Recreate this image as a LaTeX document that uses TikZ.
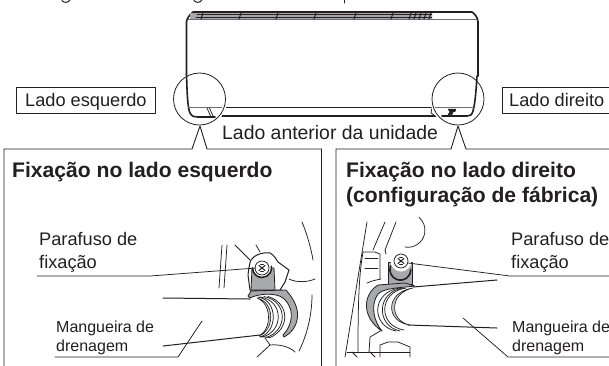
\documentclass[tikz,border=0pt]{standalone}
\usepackage{fontspec}
\setmainfont{Liberation Sans}
\definecolor{ink}{HTML}{231F20}
\definecolor{band}{HTML}{A7A9AC}
\tikzset{
 x=1pt,y=-1pt,
 fine/.style={draw=ink,line width=0.75pt},
 med/.style={draw=ink,line width=1pt},
 heavy/.style={draw=ink,line width=1.6pt},
 greyline/.style={draw=ink!65,line width=0.9pt},
 panel/.style={draw=ink,line width=0.9pt,line cap=butt},
 metal/.style={fill=band,draw=ink,line width=0.8pt},
 lens/.style={circle,draw=ink,line width=0.8pt,minimum size=52pt,inner sep=0pt},
 tagbox/.style={draw=ink,line width=0.8pt},
 lab/.style={anchor=base west,inner sep=0pt,text=ink,font=\fontsize{18.2}{20}\selectfont},
 smalllab/.style={anchor=base west,inner sep=0pt,text=ink,font=\fontsize{16}{18}\selectfont},
 frontlab/.style={anchor=base west,inner sep=0pt,text=ink,font=\fontsize{19.4}{22}\selectfont},
 head/.style={anchor=base west,inner sep=0pt,text=ink,font=\bfseries\fontsize{21.1}{23}\selectfont},
}
\begin{document}
\begin{tikzpicture}[line join=round,line cap=round]
\clip (0,0) rectangle (609,365);
\fill[white] (0,0) rectangle (609,365);
% clipped descenders of the line above
\draw[fine,line width=1pt] (62,0.5) .. controls (64,3) and (68,3) .. (70,0);
\draw[fine,line width=1pt] (194,0.5) .. controls (196,3) and (200,3) .. (202,0);
\draw[fine,line width=1pt] (344,0) -- (344,3);
% unit body
\draw[heavy] (186.5,76) -- (186.5,22) .. controls (186.5,19) and (190,14) .. (193,12) -- (472,12) .. controls (475,14) and (478,18) .. (478,22) -- (478,76);
\fill[band] (190,13) rectangle (432,19);
\draw[greyline] (188,19.5) -- (477,19.5);
\draw[fine] (197,14.5) -- (432,14.5);
\draw[fine] (196,17) -- (432,17);
\foreach \tx in {202,240,277,315,355,392,410,415,420,425,430}
  \draw[med] (\tx+1,13) -- (\tx-1,19);
\draw[med] (224,107.5) -- (432,107.5);
\draw[heavy,line width=1.8pt] (222,116) -- (436,116);
\draw[fine] (432,107.5) -- (431,113) -- (434,115);
% lenses
\fill[white] (199.5,99) circle (28);
\fill[white] (458,99) circle (28);
\node[lens] (lensL) at (199.5,99) {};
\node[lens] (lensR) at (458,99) {};
% inside left lens
\draw[heavy] (186.5,74) .. controls (187,90) and (187.5,108) .. (190,113) .. controls (192,117) and (195,117) .. (198,117) -- (215,117);
\draw[greyline] (188,107.5) -- (222,107.5);
\draw[fine] (207,108) -- (211,117);
\draw[fine] (209.5,108) -- (213,116);
% inside right lens
\draw[heavy] (477,76) .. controls (476,92) and (475,104) .. (473,111) .. controls (472,115) and (470,116) .. (467,116) -- (442,116);
\draw[greyline] (435,107.5) -- (475,107.5);
\draw[fill=ink,draw=ink,line width=0.5pt] (448,109) -- (456,109) -- (455,111.5) -- (453,112) -- (452,114.5) -- (448,114.5) -- (450,112) -- cycle;
% tags
\node[tagbox,minimum width=139pt,minimum height=26pt,inner sep=0pt] (tagL) at (85.5,100) {};
\node[tagbox,minimum width=120pt,minimum height=26pt,inner sep=0pt] (tagR) at (562,100) {};
\node[lab] (tagLt) at (25,106) {Lado esquerdo};
\node[lab] (tagRt) at (509,106) {Lado direito};
\node[frontlab] (front) at (222,139) {Lado anterior da unidade};
% panels
\coordinate (tipL) at (200,126);
\coordinate (tipR) at (458,126);
\draw[panel] (4,366) -- (4,149) -- (192,149) -- (tipL) -- (207,149) -- (321.5,149) -- (321.5,366);
\draw[panel] (336,366) -- (336,149) -- (451,149) -- (tipR) -- (466,149) -- (612,149);
\node[head] (hL) at (12,177) {Fixação no lado esquerdo};
\node[head] (hR1) at (346,177) {Fixação no lado direito};
\node[head] (hR2) at (346,202) {(configuração de fábrica)};
\node[lab] (scL1) at (39,245) {Parafuso de};
\node[lab] (scL2) at (39,268) {fixação};
\node[smalllab] (hoL1) at (56,332) {Mangueira de};
\node[smalllab] (hoL2) at (56,351) {drenagem};
\node[lab] (scR1) at (511,245) {Parafuso de};
\node[lab] (scR2) at (511,268) {fixação};
\node[smalllab] (hoR1) at (512,332) {Mangueira de};
\node[smalllab] (hoR2) at (512,351) {drenagem};
% ---------- left illustration
\draw[fine] (222,245) -- (219,288);
\draw[fine] (227,245) -- (224,288);
\draw[fine] (235,245) -- (250,260);
\draw[fine] (256,245) -- (260,252);
\draw[fine] (302,222) .. controls (307,234) and (311,248) .. (313,260);
\draw[fine] (289,279) .. controls (297,283) and (308,282) .. (315,279);
\draw[fine] (312,295) .. controls (312,315) and (307,335) .. (299,351);
\draw[fine] (257,357) -- (270,345) .. controls (280,344) and (290,347) .. (295,352);
\draw[fine] (265,338) -- (270,345);
\draw[med,fill=white] (248,275) .. controls (249,266) and (250,262) .. (251,260) .. controls (254,255) and (262,252) .. (270,253) .. controls (274,255) and (276,259) .. (278,262) -- (289,270) -- (285,282) -- (280,290) -- (250,290) -- cycle;
\draw[metal] (251,290) -- (252,268) -- (274,268) -- (275,290) -- cycle;
\fill[white] (262,268) circle (10);
\draw[heavy] (252.5,268) arc (180:-10:9.5);
\draw[fine,fill=white] (262,268) circle (7);
\draw[med] (259,265.5) -- (265,270.5) (265,265.5) -- (259,270.5);
\draw[fine] (260.5,264.5) -- (263.5,264.5) (260.5,271.5) -- (263.5,271.5);
\draw[med] (163,298) -- (250,299);
\draw[med] (163,346) -- (260,335);
% rings, hose end and clamp band
\draw[fine] (258,297) .. controls (278,300) and (278,332) .. (260,337);
\draw[fine] (260,297) .. controls (284,300) and (284,332) .. (262,337);
\draw[fine] (264,296.5) .. controls (288,301) and (288,331) .. (266,337.5);
\draw[fine] (268,296.5) .. controls (290,303) and (290,329) .. (270,337.5) -- (260,336.5);
\draw[metal,fill=band!70,line width=0.6pt] (257,298) .. controls (275,302) and (275,330) .. (259,336) .. controls (272,329) and (272,304) .. (257,298) -- cycle;
\draw[metal] (248,296) -- (251,291) -- (286,290) -- (290,295) .. controls (296,303) and (299,312) .. (297,320) .. controls (296,327) and (291,333) .. (284,337) -- (283,335) .. controls (291,327) and (293,315) .. (290,308) .. controls (287,300) and (282,296) .. (276,295) .. controls (266,293) and (256,295) .. (250,298) -- cycle;
\draw[fine] (37,276) -- (150,276) -- (256,268);
\draw[fine] (202,321) -- (178,357) -- (55,357);
% ---------- right illustration
\draw[fine] (367,222) -- (345,357);
\draw[fine] (385,222) -- (373,250);
\draw[fine] (396,222) -- (385,250) -- (386,254);
\draw[fine] (363,252) -- (375,252) -- (380,254) -- (380,279);
\draw[fine] (365,258) -- (378,258) (365,268) -- (378,268);
\draw[fine] (367,283) .. controls (371,281) and (376,280) .. (381,279);
\draw[fine] (363,252) .. controls (359,275) and (358,300) .. (358,352);
\draw[fine] (347,352) -- (410,352);
\draw[fine] (382,330) -- (370,337) -- (369,352);
\draw[fine] (380,357) -- (380,345) -- (388,342) -- (398,342) -- (410,347) -- (410,357);
\draw[fine] (352,352) -- (357,357) (370,352) -- (375,357);
\draw[fine] (405,247) arc (100:-50:17);
\draw[metal] (388,284) -- (388,262) -- (412,262) -- (412,284) -- cycle;
\fill[white] (401,261) circle (10.5);
\draw[heavy] (390.5,266) arc (200:0:10.5);
\draw[fine,fill=white] (401,261) circle (7);
\draw[med] (398,258.5) -- (404,263.5) (404,258.5) -- (398,263.5);
\draw[fine] (399.5,257.5) -- (402.5,257.5) (399.5,264.5) -- (402.5,264.5);
\draw[med] (497,280) -- (413,287);
\draw[med] (497,328) -- (408,325);
% rings, hose end and clamp band
\draw[fine] (400,288) .. controls (371,292) and (371,326) .. (396,331);
\draw[fine] (403,288) .. controls (376,292) and (376,326) .. (400,331);
\draw[fine] (406,288) .. controls (378,292) and (378,326) .. (404,330);
\draw[metal] (415,286) -- (405,283) -- (378,285) .. controls (362,295) and (362,318) .. (382,331) .. controls (374,322) and (370,305) .. (378,294) .. controls (384,288) and (398,288) .. (415,286) -- cycle;
\draw[metal,fill=band!70,line width=0.6pt] (413,288) .. controls (385,292) and (385,322) .. (410,325) .. controls (389,321) and (389,293) .. (413,288) -- cycle;
\draw[fine] (408,263) -- (510,276) -- (612,276);
\draw[fine] (463,318) -- (508,357) -- (612,357);
\end{tikzpicture}
\end{document}
